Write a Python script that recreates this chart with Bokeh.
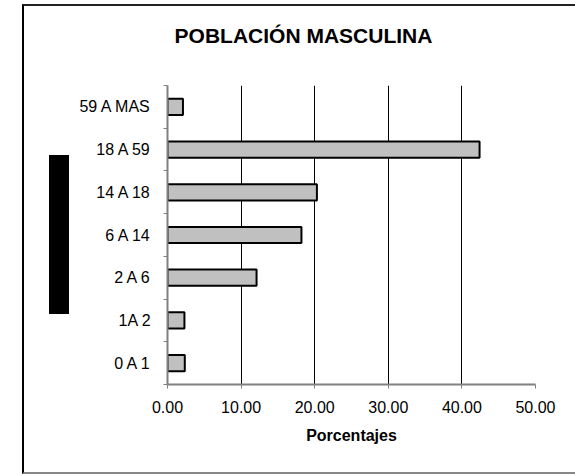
from bokeh.plotting import figure
from bokeh.models import (Range1d, FixedTicker, NumeralTickFormatter, Label,
                          ColumnDataSource, InlineStyleSheet)
from bokeh.embed import file_html
from bokeh.resources import INLINE

# ---- data ----
age_groups = ["0 A 1", "1A 2", "2 A 6", "6 A 14", "14 A 18", "18 A 59", "59 A MAS"]
percentages = [2.35, 2.3, 12.1, 18.2, 20.3, 42.4, 2.1]
x_ticks = [0, 10, 20, 30, 40, 50]
title_text = "POBLACIÓN MASCULINA"
x_title = "Porcentajes"

FONT = "Liberation Sans"

y_pos = [i + 0.5 for i in range(len(age_groups))]
src = ColumnDataSource(dict(y=y_pos, right=percentages, label=age_groups))

p = figure(width=575, height=475, output_backend="svg", toolbar_location=None,
           x_range=Range1d(0, 50), y_range=Range1d(0, len(age_groups)),
           min_border_left=167, min_border_right=40, min_border_top=85,
           min_border_bottom=91)
p.outline_line_color = None
p.background_fill_color = "white"
p.border_fill_color = "white"

p.hbar(y="y", right="right", left=0, height=0.38, source=src,
       fill_color="#c0c0c0", line_color="black", line_width=2)

# grid
p.ygrid.grid_line_color = None
p.xgrid.grid_line_color = "black"
p.xgrid.grid_line_width = 1
p.xgrid.ticker = FixedTicker(ticks=x_ticks)

# x axis
xa = p.xaxis[0]
xa.ticker = FixedTicker(ticks=x_ticks)
xa.formatter = NumeralTickFormatter(format="0.00")
xa.axis_line_color = "#808080"
xa.axis_line_width = 2
xa.major_tick_line_color = "#808080"
xa.major_tick_in = 0
xa.major_tick_out = 4
xa.minor_tick_line_color = None
xa.major_label_text_font = FONT
xa.major_label_text_font_size = "16px"
xa.major_label_text_color = "black"
xa.major_label_standoff = 12
xa.axis_label = x_title
xa.axis_label_text_font = FONT
xa.axis_label_text_font_style = "bold"
xa.axis_label_text_font_size = "16px"
xa.axis_label_text_color = "black"
xa.axis_label_standoff = 11

# y axis
ya = p.yaxis[0]
ya.ticker = FixedTicker(ticks=y_pos, minor_ticks=list(range(len(age_groups) + 1)))
ya.major_label_overrides = {yy: lab for yy, lab in zip(y_pos, age_groups)}
ya.axis_line_color = "#808080"
ya.axis_line_width = 2
ya.major_tick_line_color = None
ya.major_tick_in = 0
ya.major_tick_out = 0
ya.minor_tick_line_color = "#808080"
ya.minor_tick_in = 0
ya.minor_tick_out = 4
ya.major_label_text_font = FONT
ya.major_label_text_font_size = "16px"
ya.major_label_text_color = "black"
ya.major_label_standoff = 12

# chart title, placed in the panel above the frame (not clipped)
p.add_layout(Label(x=136, y=50, x_units="screen", y_units="screen",
                   text=title_text, text_font=FONT, text_font_style="bold",
                   text_font_size="21px", text_align="center",
                   text_baseline="middle", text_color="black"), "above")

# outer chart border and the black block at left (decorations)
css = """
:host { position: relative; }
:host::before {
  content: ""; position: absolute; z-index: 5; pointer-events: none;
  left: 22px; top: 4px; width: 553px; height: 470px; box-sizing: border-box;
  border-left: 2px solid #000; border-top: 2px solid #222; border-bottom: 2px solid #888;
}
:host::after {
  content: ""; position: absolute; z-index: 5; pointer-events: none;
  left: 49px; top: 155px; width: 20px; height: 159px; background: #000;
}
"""
p.stylesheets = [InlineStyleSheet(css=css)]

open("out.html", "w").write(file_html(p, INLINE))
